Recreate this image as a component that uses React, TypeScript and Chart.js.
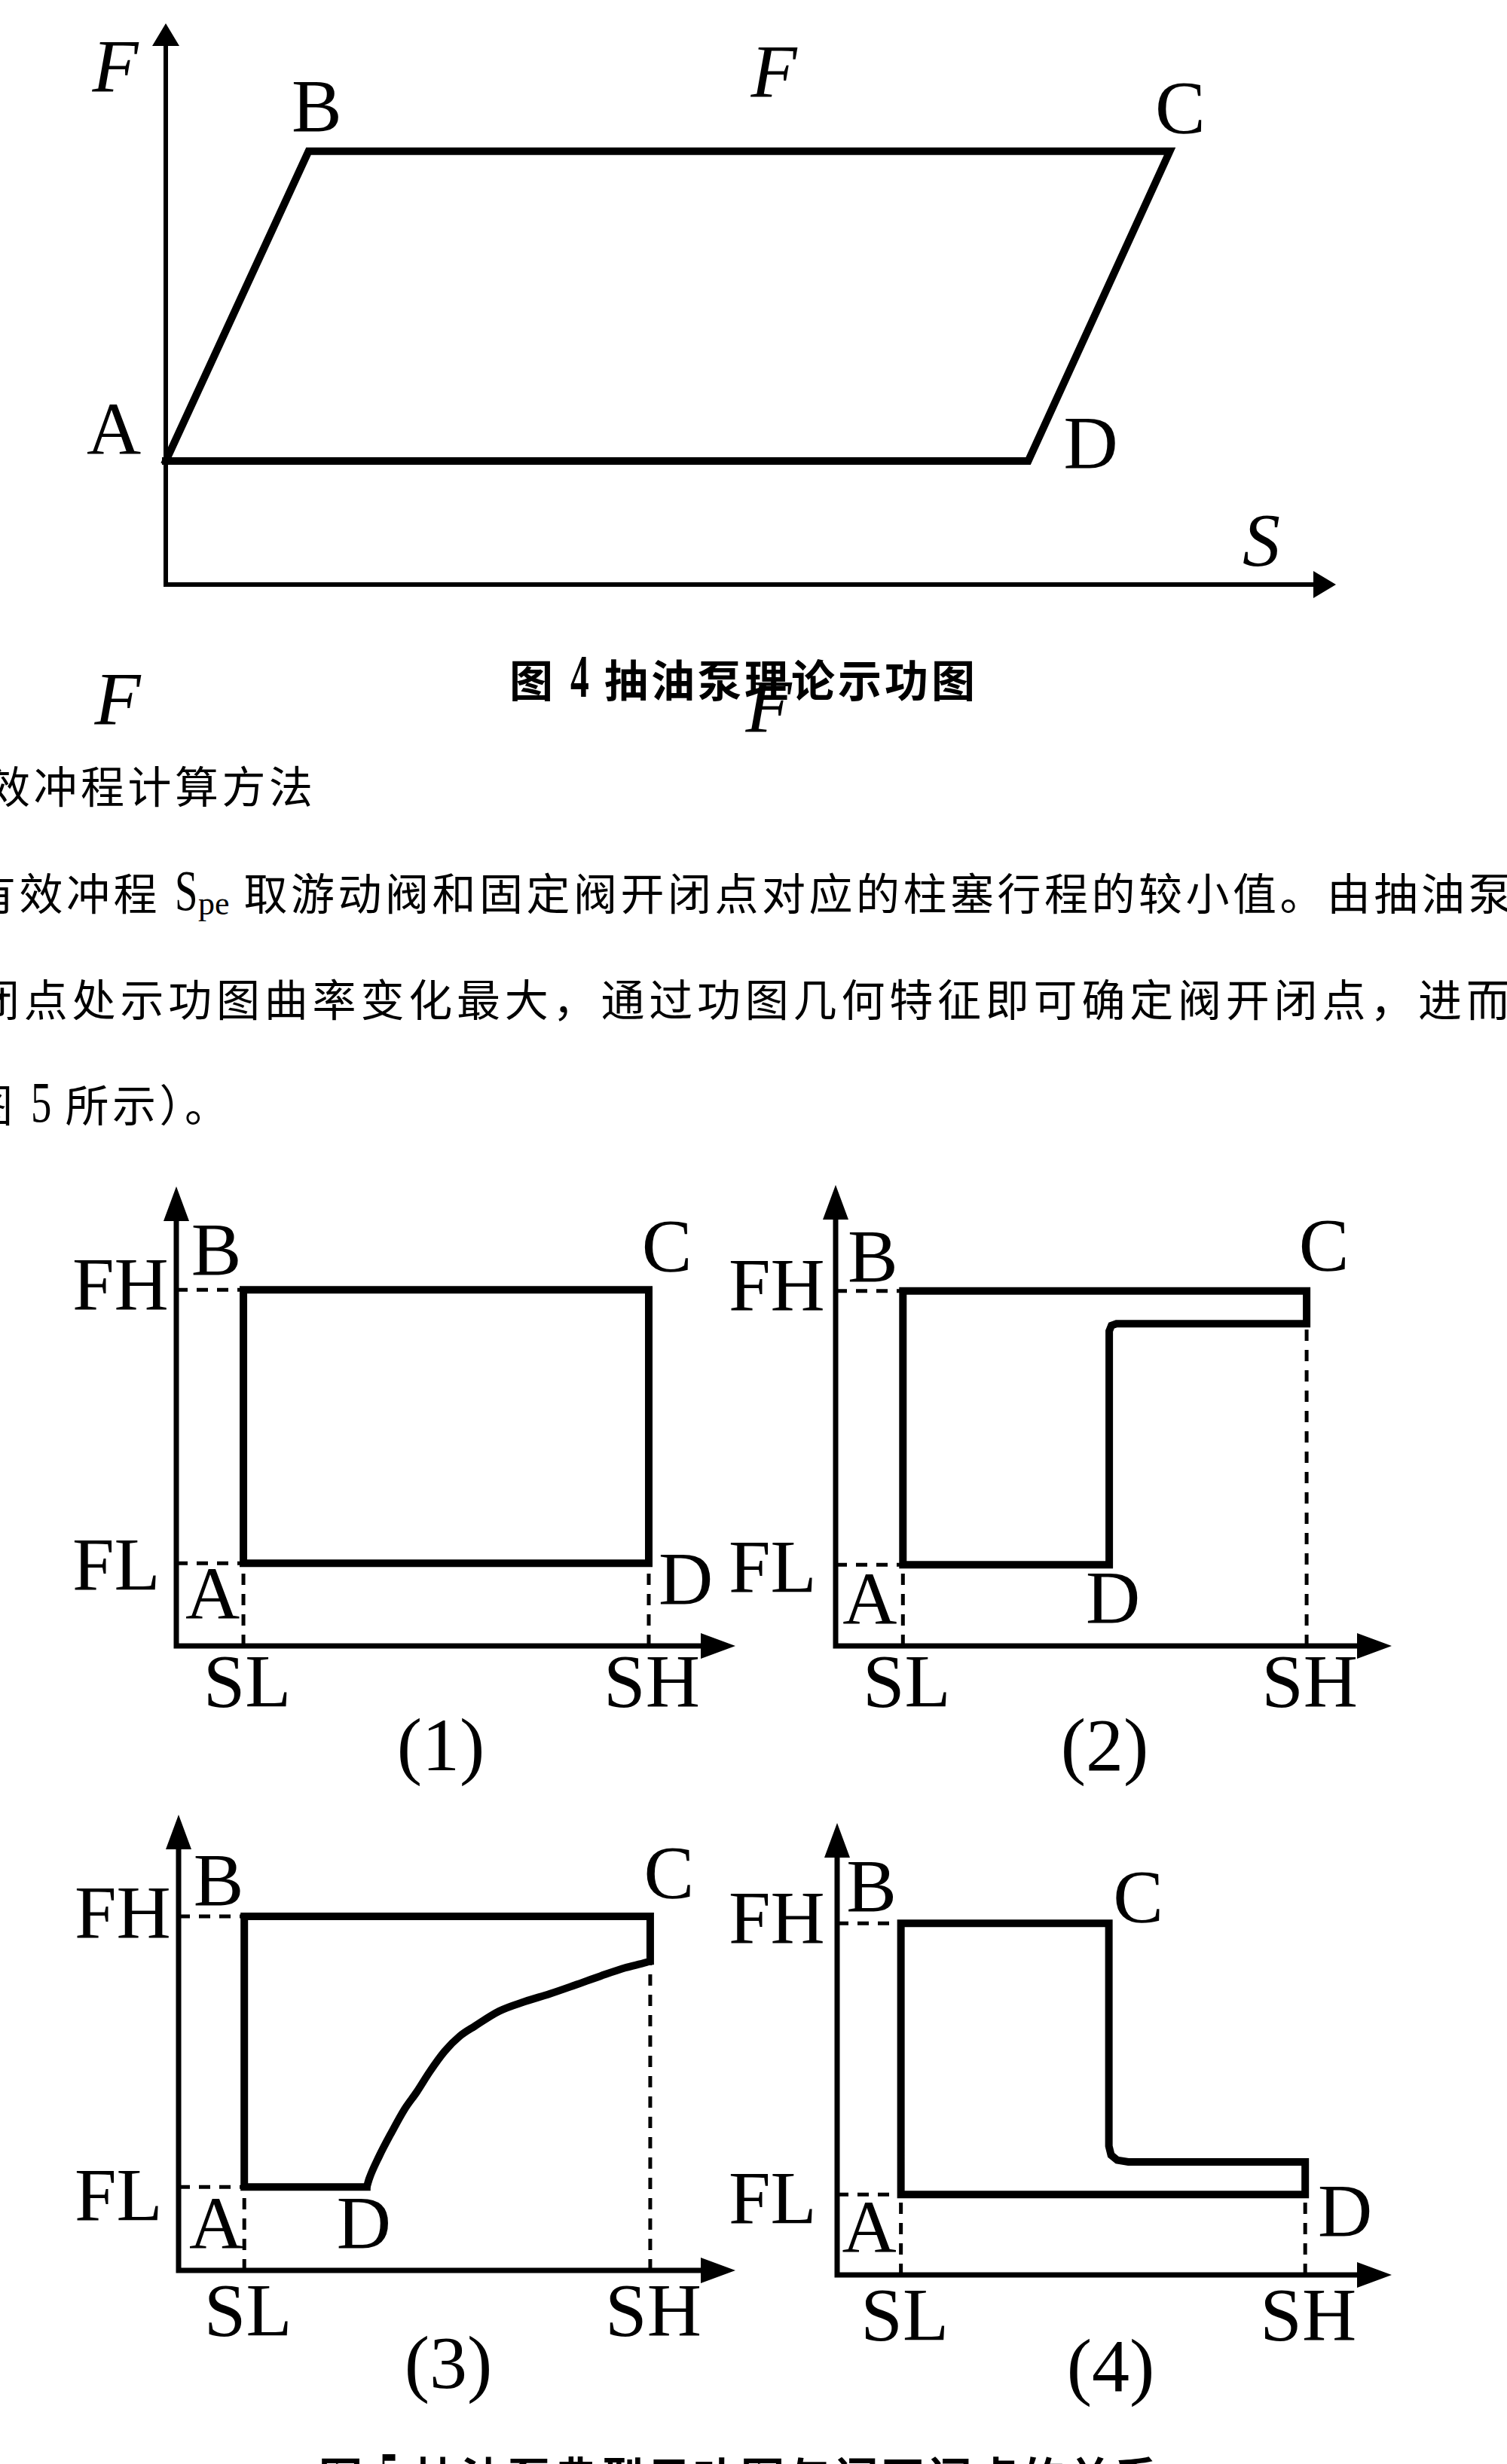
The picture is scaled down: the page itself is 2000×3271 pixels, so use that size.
import React, { useEffect, useRef } from "react";
import { Chart, registerables } from "chart.js";
Chart.register(...registerables);

// ---------------- DATA (axis units: 0 = origin, 100 = arrow tip) ----------------
// 图4 抽油泵理论示功图 : A-B-C-D-A
const FIG4_S = [0, 12.2, 85.8, 73.7, 0];
const FIG4_F = [22.0, 77.2, 77.2, 22.0, 22.0];
const POINT_NAMES = ["A", "B", "C", "D"];
const FIG4_POINT_INDEX = [0, 1, 2, 3];

// 图5 (1) normal card
const C1_S = [12.0, 12.0, 84.5, 84.5, 12.0];
const C1_F = [18.0, 77.5, 77.5, 18.0, 18.0];
// 图5 (2)
const C2_S = [12.1, 12.1, 84.7, 84.7, 50.5, 49.6, 49.2, 49.2, 12.1];
const C2_F = [17.6, 77.0, 77.0, 69.9, 69.9, 69.5, 68.3, 17.6, 17.6];
// 图5 (3): straight part D-A-B-C-end, then the curved segment D -> end
const C3_S = [33.8, 11.8, 11.8, 84.7, 84.7];
const C3_F = [18.3, 18.3, 77.7, 77.7, 67.9];
const C3_CURVE_S = [33.8, 34.2, 36.0, 38.3, 40.6, 42.8, 45.1, 47.8, 50.5, 53.2, 57.6, 62.2, 66.7, 71.2, 75.8, 80.2, 84.0, 84.7];
const C3_CURVE_F = [18.3, 20.0, 25.0, 30.4, 35.4, 39.2, 43.6, 48.1, 51.4, 53.6, 56.9, 59.0, 60.7, 62.6, 64.6, 66.4, 67.6, 67.9];
// 图5 (4)
const C4_S = [11.5, 11.5, 49.0, 49.0, 49.4, 50.5, 52.5, 84.4, 84.4, 11.5];
const C4_F = [17.8, 77.8, 77.8, 28.5, 26.5, 25.4, 25.0, 25.0, 17.8, 17.8];

const SL_VALUES = [12.0, 12.1, 11.8, 11.5];
const SH_VALUES = [84.5, 84.7, 84.7, 84.4];
const FL_VALUES = [18.0, 17.6, 18.3, 17.8];
const FH_VALUES = [77.5, 77.0, 77.7, 77.8];
const SH_GUIDE_TOP = [18.0, 69.9, 67.9, 17.8];
const PANEL_POINT_INDEX = [
  [0, 1, 2, 3],
  [0, 1, 2, 7],
  [1, 2, 3, 0],
  [0, 1, 2, 8],
];
const Y_TICK_LABELS = ["FL", "FH"];
const X_TICK_LABELS = ["SL", "SH"];
const PANEL_TITLES = ["(1)", "(2)", "(3)", "(4)"];

// ---------------- STYLE / LAYOUT ----------------
const LABEL_FONT = '100px "Liberation Serif"';
const ITALIC_FONT = 'italic 100px "Liberation Serif"';
const SERIF = '"Liberation Serif", "Times New Roman", serif';
const BODY_FONT = '"Liberation Serif", "Noto Sans CJK SC", serif';

type Box = { left: number; top: number; width: number; height: number };
type Area = { left: number; top: number; right: number; bottom: number };
type TextItem = { text: string; sx: number; fy: number; dx: number; dy: number; align: CanvasTextAlign; font: string };
type Spec = {
  canvas: Box;
  area: Area;
  datasets: any[];
  texts: TextItem[];
  axis: { width: number; arrowLen: number; arrowHalf: number };
};

const PANEL_LAYOUT = [
  {
    canvas: { left: 40, top: 1540, width: 960, height: 780 },
    area: { left: 234, top: 1575, right: 976, bottom: 2185 },
    pts: [[-41, 48], [-36, -47], [24, -52], [49, 28]],
    yTickDx: -138, flDy: 9, fhDy: -1, xTickDy: 54,
  },
  {
    canvas: { left: 920, top: 1540, width: 1000, height: 780 },
    area: { left: 1109, top: 1573, right: 1847, bottom: 2185 },
    pts: [[-44, 52], [-40, -39], [23, -54], [5, 50]],
    yTickDx: -142, flDy: 9, fhDy: -1, xTickDy: 54,
  },
  {
    canvas: { left: 40, top: 2370, width: 960, height: 820 },
    area: { left: 237, top: 2409, right: 976, bottom: 3014 },
    pts: [[-37, 55], [-34, -41], [25, -51], [-4, 54]],
    yTickDx: -138, flDy: 17, fhDy: 2, xTickDy: 60,
  },
  {
    canvas: { left: 920, top: 2370, width: 1000, height: 820 },
    area: { left: 1111, top: 2420, right: 1847, bottom: 3020 },
    pts: [[-42, 51], [-39, -42], [39, -28], [53, 29]],
    yTickDx: -144, flDy: 12, fhDy: 0, xTickDy: 60,
  },
];
const PANEL_TITLE_POS = [
  [585, 2317],
  [1466, 2317],
  [595, 3137],
  [1474, 3141],
];

const toXY = (S: number[], F: number[]) => S.map((s, i) => ({ x: s, y: F[i] }));

const pathDataset = (S: number[], F: number[], width: number) => ({
  data: toXY(S, F),
  showLine: true,
  borderColor: "#000",
  backgroundColor: "#000",
  borderWidth: width,
  pointRadius: 0,
  tension: 0,
  fill: false,
  borderJoinStyle: "miter",
  borderCapStyle: "square",
  clip: false,
});

const curveDataset = (S: number[], F: number[], width: number) => ({
  data: toXY(S, F),
  showLine: true,
  borderColor: "#000",
  borderWidth: width,
  pointRadius: 0,
  cubicInterpolationMode: "monotone",
  fill: false,
  borderJoinStyle: "round",
  borderCapStyle: "butt",
  clip: false,
});

const dashDataset = (S: number[], F: number[]) => ({
  data: toXY(S, F),
  showLine: true,
  borderColor: "#000",
  borderWidth: 5,
  borderDash: [15, 12],
  pointRadius: 0,
  tension: 0,
  fill: false,
  borderCapStyle: "butt",
  clip: false,
});

const FIG4_SPEC: Spec = {
  canvas: { left: 0, top: 0, width: 1900, height: 860 },
  area: { left: 220, top: 31, right: 1773, bottom: 776 },
  datasets: [pathDataset(FIG4_S, FIG4_F, 10)],
  texts: [
    ...FIG4_POINT_INDEX.map((idx, k) => ({
      text: POINT_NAMES[k],
      sx: FIG4_S[idx],
      fy: FIG4_F[idx],
      dx: [-69, 11, 14, 83][k],
      dy: [-35, -53, -51, -17][k],
      align: "center" as CanvasTextAlign,
      font: LABEL_FONT,
    })),
    { text: "F", sx: 0, fy: 100, dx: -67, dy: 64, align: "center", font: ITALIC_FONT },
    { text: "S", sx: 100, fy: 0, dx: -99, dy: -52, align: "center", font: ITALIC_FONT },
  ],
  axis: { width: 6, arrowLen: 30, arrowHalf: 18 },
};

const PANEL_PATHS = [
  [C1_S, C1_F],
  [C2_S, C2_F],
  [C3_S, C3_F],
  [C4_S, C4_F],
];

const PANEL_SPECS: Spec[] = PANEL_PATHS.map(([S, F], i) => {
  const L = PANEL_LAYOUT[i];
  const SL = SL_VALUES[i], SH = SH_VALUES[i], FL = FL_VALUES[i], FH = FH_VALUES[i];
  const texts: TextItem[] = [
    { text: Y_TICK_LABELS[0], sx: 0, fy: FL, dx: L.yTickDx, dy: L.flDy, align: "left", font: LABEL_FONT },
    { text: Y_TICK_LABELS[1], sx: 0, fy: FH, dx: L.yTickDx, dy: L.fhDy, align: "left", font: LABEL_FONT },
    { text: X_TICK_LABELS[0], sx: SL, fy: 0, dx: 5, dy: L.xTickDy, align: "center", font: LABEL_FONT },
    { text: X_TICK_LABELS[1], sx: SH, fy: 0, dx: 4, dy: L.xTickDy, align: "center", font: LABEL_FONT },
    ...PANEL_POINT_INDEX[i].map((idx, k) => ({
      text: POINT_NAMES[k],
      sx: S[idx],
      fy: F[idx],
      dx: L.pts[k][0],
      dy: L.pts[k][1],
      align: "center" as CanvasTextAlign,
      font: LABEL_FONT,
    })),
  ];
  const datasets: any[] = [
    dashDataset([0, SL], [FH, FH]),
    dashDataset([0, SL], [FL, FL]),
    dashDataset([SL, SL], [0, FL]),
    dashDataset([SH, SH], [0, SH_GUIDE_TOP[i]]),
    pathDataset(S, F, 10),
  ];
  if (i === 2) datasets.push(curveDataset(C3_CURVE_S, C3_CURVE_F, 10));
  return {
    canvas: L.canvas,
    area: L.area,
    datasets,
    texts,
    axis: { width: 7, arrowLen: 46, arrowHalf: 17 },
  };
});

function makePlugin(spec: Spec) {
  return {
    id: "diagram",
    beforeDatasetsDraw(chart: any) {
      const { ctx } = chart;
      const x = chart.scales.x;
      const y = chart.scales.y;
      const ox = x.getPixelForValue(0), oy = y.getPixelForValue(0);
      const tx = x.getPixelForValue(100), ty = y.getPixelForValue(100);
      const a = spec.axis;
      ctx.save();
      ctx.strokeStyle = "#000";
      ctx.fillStyle = "#000";
      ctx.lineWidth = a.width;
      ctx.lineCap = "butt";
      ctx.beginPath();
      ctx.moveTo(ox, oy + a.width / 2);
      ctx.lineTo(ox, ty + a.arrowLen * 0.6);
      ctx.moveTo(ox - a.width / 2, oy);
      ctx.lineTo(tx - a.arrowLen * 0.6, oy);
      ctx.stroke();
      ctx.beginPath();
      ctx.moveTo(ox, ty);
      ctx.lineTo(ox - a.arrowHalf, ty + a.arrowLen);
      ctx.lineTo(ox + a.arrowHalf, ty + a.arrowLen);
      ctx.closePath();
      ctx.moveTo(tx, oy);
      ctx.lineTo(tx - a.arrowLen, oy - a.arrowHalf);
      ctx.lineTo(tx - a.arrowLen, oy + a.arrowHalf);
      ctx.closePath();
      ctx.fill();
      ctx.restore();
    },
    afterDatasetsDraw(chart: any) {
      const { ctx } = chart;
      const x = chart.scales.x;
      const y = chart.scales.y;
      ctx.save();
      ctx.fillStyle = "#000";
      ctx.textBaseline = "middle";
      for (const t of spec.texts) {
        ctx.font = t.font;
        ctx.textAlign = t.align;
        ctx.fillText(t.text, x.getPixelForValue(t.sx) + t.dx, y.getPixelForValue(t.fy) + t.dy);
      }
      ctx.restore();
    },
  };
}

function DiagramCanvas({ spec }: { spec: Spec }) {
  const ref = useRef<HTMLCanvasElement>(null);
  useEffect(() => {
    const c = ref.current;
    if (!c) return;
    const { canvas: cb, area } = spec;
    const chart = new Chart(c, {
      type: "scatter",
      data: { datasets: spec.datasets },
      options: {
        responsive: false,
        maintainAspectRatio: false,
        animation: false,
        events: [],
        layout: {
          padding: {
            left: area.left - cb.left,
            top: area.top - cb.top,
            right: cb.left + cb.width - area.right,
            bottom: cb.top + cb.height - area.bottom,
          },
        },
        scales: {
          x: { type: "linear", min: 0, max: 100, display: false },
          y: { type: "linear", min: 0, max: 100, display: false },
        },
        plugins: { legend: { display: false }, tooltip: { enabled: false }, title: { display: false } },
      } as any,
      plugins: [makePlugin(spec) as any],
    });
    return () => chart.destroy();
  }, [spec]);
  return (
    <canvas
      ref={ref}
      width={spec.canvas.width}
      height={spec.canvas.height}
      style={{
        position: "absolute",
        left: spec.canvas.left,
        top: spec.canvas.top,
        width: spec.canvas.width,
        height: spec.canvas.height,
      }}
    />
  );
}

function Line({ left, cy, size = 58, bold = false, spacing = 4.5, children }: any) {
  return (
    <div
      style={{
        position: "absolute",
        left,
        top: cy - 0.4575 * size,
        fontFamily: BODY_FONT,
        fontSize: size,
        lineHeight: `${size}px`,
        letterSpacing: spacing,
        whiteSpace: "nowrap",
        fontWeight: bold ? 700 : 400,
        color: "#000",
      }}
    >
      {children}
    </div>
  );
}

// condensed tall Latin glyphs as in the scanned page
function Narrow({ w, size = 76, sx = 0.72, children }: any) {
  return (
    <span
      style={{
        display: "inline-block",
        width: w,
        fontSize: size,
        lineHeight: "40px",
        letterSpacing: 0,
        transform: `scaleX(${sx})`,
        transformOrigin: "left center",
        fontFamily: SERIF,
      }}
    >
      {children}
    </span>
  );
}

function CText({ x, cy, italic = false, size = 100, children }: any) {
  return (
    <div
      style={{
        position: "absolute",
        left: x,
        top: cy,
        transform: "translate(-50%, -50%)",
        fontFamily: SERIF,
        fontSize: size,
        lineHeight: 1,
        fontStyle: italic ? "italic" : "normal",
        whiteSpace: "nowrap",
        color: "#000",
      }}
    >
      {children}
    </div>
  );
}

export default function App() {
  return (
    <div
      style={{
        position: "absolute",
        left: 0,
        top: 0,
        width: 2000,
        height: 3271,
        background: "#fff",
        overflow: "hidden",
      }}
    >
      <DiagramCanvas spec={FIG4_SPEC} />
      <CText x={1027} cy={95} italic>F</CText>
      <Line left={676} cy={904} bold spacing={4}>
        图 <Narrow w={27} size={80} sx={0.62}>4</Narrow> 抽油泵理论示功图
      </Line>
      <CText x={156} cy={928} italic>F</CText>
      <CText x={1020} cy={938} italic>F</CText>

      <Line left={-18} cy={1045}>效冲程计算方法</Line>
      <Line left={-37} cy={1187}>
        有效冲程 <Narrow w={31}>S</Narrow>
        <span style={{ fontSize: 44, letterSpacing: 0, verticalAlign: "-6px", lineHeight: "20px" }}>pe</span>
        {" "}取游动阀和固定阀开闭点对应的柱塞行程的较小值。由抽油泵
      </Line>
      <Line left={-32} cy={1328} spacing={5.8}>闭点处示功图曲率变化最大，通过功图几何特征即可确定阀开闭点，进而</Line>
      <Line left={-41} cy={1468}>
        图 <Narrow w={27}>5</Narrow> 所示）。
      </Line>

      {PANEL_SPECS.map((s, i) => (
        <DiagramCanvas key={i} spec={s} />
      ))}
      {PANEL_TITLES.map((t, i) => (
        <CText key={t} x={PANEL_TITLE_POS[i][0]} cy={PANEL_TITLE_POS[i][1]}>
          {t}
        </CText>
      ))}

      <Line left={423} cy={3290} bold spacing={4}>
        图 <Narrow w={27} size={80} sx={0.62}>5</Narrow> 抽油泵典型示功图与阀开闭点的关系
      </Line>
    </div>
  );
}
